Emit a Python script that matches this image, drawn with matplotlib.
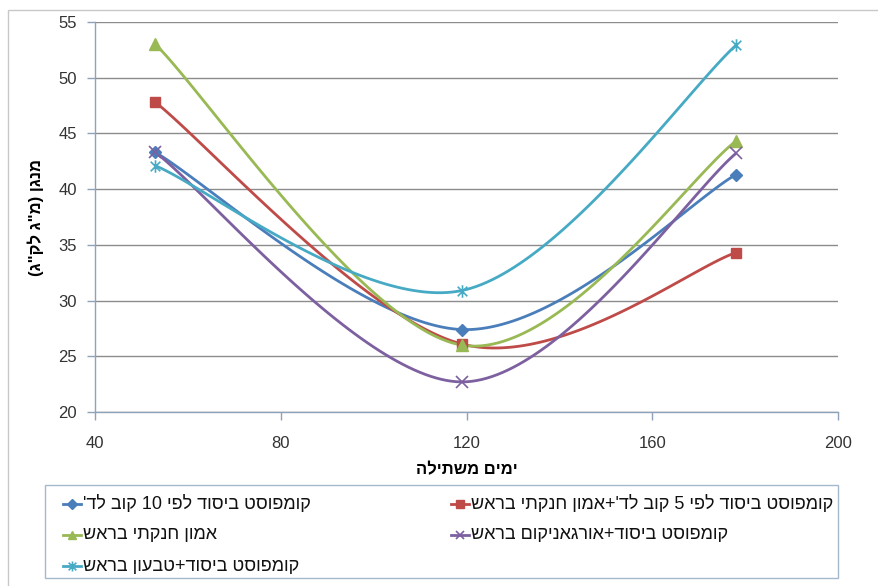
import re

import matplotlib
matplotlib.use("Agg")
import matplotlib.pyplot as plt
import numpy as np
from matplotlib.lines import Line2D
from matplotlib.path import Path
from matplotlib.patches import Rectangle

plt.rcParams["font.family"] = ["Liberation Sans", "DejaVu Sans"]

# days after planting
days = [53, 119, 178]

# manganese, mg/kg
compost10 = [43.3, 27.4, 41.3]
compost5_ammon = [47.8, 26.1, 34.3]
ammon = [53.0, 26.0, 44.3]
compost_organic = [43.3, 22.7, 43.2]
compost_tevaon = [42.1, 30.9, 52.9]

series_names = [
    "קומפוסט ביסוד לפי 10 קוב לד'",
    "קומפוסט ביסוד לפי 5 קוב לד'+אמון חנקתי בראש",
    "אמון חנקתי בראש",
    "קומפוסט ביסוד+אורגאניקום בראש",
    "קומפוסט ביסוד+טבעון בראש",
]
x_title = "ימים משתילה"
y_title = 'מנגן (מ"ג לק"ג)'

x_ticks = [40, 80, 120, 160, 200]
y_ticks = [20, 25, 30, 35, 40, 45, 50, 55]


def rtl(s):
    # crude visual reordering for right-to-left text (no bidi lib available)
    r = s[::-1]
    r = re.sub(r"\d+", lambda m: m.group(0)[::-1], r)
    return r.translate(str.maketrans("()", ")("))


def smooth(xs, ys, n=60):
    # bezier smoothing through the points, like a spreadsheet "smoothed line"
    p = np.column_stack([xs, ys]).astype(float)
    pts = np.vstack([p[0], p, p[-1]])
    out = []
    t = np.linspace(0, 1, n)[:, None]
    for i in range(1, len(pts) - 2):
        p0, p1, p2, p3 = pts[i - 1], pts[i], pts[i + 1], pts[i + 2]
        c1 = p1 + (p2 - p0) / 6
        c2 = p2 - (p3 - p1) / 6
        seg = ((1 - t) ** 3) * p1 + 3 * ((1 - t) ** 2) * t * c1 + 3 * (1 - t) * t ** 2 * c2 + t ** 3 * p2
        out.append(seg if i == 1 else seg[1:])
    out = np.vstack(out)
    return out[:, 0], out[:, 1]


star = Path(
    [(-1, -1), (1, 1), (-1, 1), (1, -1), (0, -1.3), (0, 1.3)],
    [Path.MOVETO, Path.LINETO, Path.MOVETO, Path.LINETO, Path.MOVETO, Path.LINETO],
)

styles = [
    dict(color="#4A7EBB", marker="D", ms=6, mew=1),
    dict(color="#BE4B48", marker="s", ms=7.5, mew=1),
    dict(color="#98B954", marker="^", ms=8, mew=1),
    dict(color="#7D60A0", marker="x", ms=8, mew=1.2),
    dict(color="#46AAC5", marker=star, ms=9, mew=1.2),
]
all_series = [compost10, compost5_ammon, ammon, compost_organic, compost_tevaon]

fig = plt.figure(figsize=(8.79, 5.86), dpi=100)
fig.patches.append(Rectangle((8 / 879, -0.01), 1.2, 1 - 10 / 586 + 0.01,
                             transform=fig.transFigure, fill=False,
                             ec="#C8C8C8", lw=1))

ax = fig.add_axes([95 / 879, 1 - 412 / 586, (838 - 95) / 879, (412 - 22) / 586])

for vals, st in zip(all_series, styles):
    sx, sy = smooth(days, vals)
    ax.plot(sx, sy, color=st["color"], lw=2, solid_capstyle="round", zorder=3)
    ax.plot(days, vals, ls="none", marker=st["marker"], ms=st["ms"],
            mfc=st["color"], mec=st["color"], mew=st["mew"], zorder=4)

ax.set_xlim(40, 200)
ax.set_ylim(20, 55)
ax.set_xticks(x_ticks)
ax.set_yticks(y_ticks)
ax.yaxis.grid(True, color="#8C8C8C", lw=1)
ax.set_axisbelow(True)
for side in ("top", "right"):
    ax.spines[side].set_visible(False)
for side in ("left", "bottom"):
    ax.spines[side].set_color("#8EA3BA")
    ax.spines[side].set_linewidth(1)
ax.tick_params(direction="out", length=6, width=1, color="#8EA3BA",
               labelsize=12, labelcolor="#333333")
ax.tick_params(axis="x", pad=11)
ax.tick_params(axis="y", pad=7)

ax.set_xlabel(rtl(x_title), fontsize=12, fontweight="bold", labelpad=8)
ax.set_ylabel(rtl(y_title), fontsize=12, fontweight="bold", labelpad=10)

# legend box, entries laid out row by row
lx0, lx1, ly0, ly1 = 45, 838, 485, 578
fig.patches.append(Rectangle((lx0 / 879, 1 - ly1 / 586), (lx1 - lx0) / 879,
                             (ly1 - ly0) / 586, transform=fig.transFigure,
                             fill=False, ec="#A6B9CC", lw=1))
col_x = [63, 451]
row_y = [504, 535, 566]
for i, (name, st) in enumerate(zip(series_names, styles)):
    cx = col_x[i % 2]
    cy = row_y[i // 2]
    fy = 1 - cy / 586
    fig.lines.append(Line2D([cx / 879, (cx + 18) / 879], [fy, fy],
                            transform=fig.transFigure, color=st["color"], lw=2))
    fig.lines.append(Line2D([(cx + 9) / 879], [fy], transform=fig.transFigure,
                            ls="none", marker=st["marker"], ms=st["ms"] * 0.8,
                            mfc=st["color"], mec=st["color"], mew=st["mew"]))
    fig.text((cx + 20) / 879, fy, rtl(name), fontsize=13, ha="left",
             va="center", color="#111111")

fig.savefig("out.png", dpi=100)
